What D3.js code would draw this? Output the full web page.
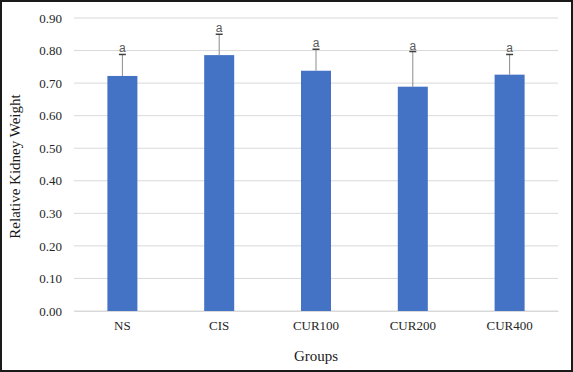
<!DOCTYPE html>
<html>
<head>
<meta charset="utf-8">
<script src="https://cdn.jsdelivr.net/npm/d3@7"></script>
<style>
  body { margin: 0; background: #fff; }
  svg { display: block; }
</style>
</head>
<body>
<div id="chart"></div>
<script>
var groups = ['NS', 'CIS', 'CUR100', 'CUR200', 'CUR400'];
var means = [0.722, 0.786, 0.738, 0.689, 0.726];
var errors = [0.066, 0.064, 0.066, 0.108, 0.062];
var letters = ['a', 'a', 'a', 'a', 'a'];
var yTicks = [0, 0.1, 0.2, 0.3, 0.4, 0.5, 0.6, 0.7, 0.8, 0.9];

var width = 573, height = 372;
var margin = {top: 18, right: 15, bottom: 61, left: 74};

var svg = d3.select('#chart').append('svg')
    .attr('width', width)
    .attr('height', height);

// frame
svg.append('rect')
    .attr('x', 1).attr('y', 1)
    .attr('width', width - 2).attr('height', height - 2)
    .attr('fill', 'none')
    .attr('stroke', '#1a1a1a')
    .attr('stroke-width', 2);

var x = d3.scaleBand()
    .domain(groups)
    .range([margin.left, width - margin.right])
    .paddingInner(0.69)
    .paddingOuter(0.345);

var y = d3.scaleLinear()
    .domain([0, 0.9])
    .range([height - margin.bottom, margin.top]);

// gridlines
svg.append('g')
    .selectAll('line')
    .data(yTicks)
    .enter()
    .append('line')
        .attr('x1', margin.left)
        .attr('x2', width - margin.right)
        .attr('y1', function (d) { return y(d); })
        .attr('y2', function (d) { return y(d); })
        .attr('stroke', '#d9d9d9')
        .attr('stroke-width', 1);

// y axis labels
var yAxis = d3.axisLeft(y)
    .tickValues(yTicks)
    .tickFormat(d3.format('.2f'))
    .tickSize(0)
    .tickPadding(12);

var gy = svg.append('g')
    .attr('transform', 'translate(' + margin.left + ',0)')
    .call(yAxis);
gy.select('.domain').remove();
gy.selectAll('text')
    .attr('font-family', '"Liberation Serif", "Times New Roman", serif')
    .attr('font-size', 13)
    .attr('fill', '#262626');

// x axis labels
var xAxis = d3.axisBottom(x).tickSize(0).tickPadding(10);
var gx = svg.append('g')
    .attr('transform', 'translate(0,' + y(0) + ')')
    .call(xAxis);
gx.select('.domain')
    .attr('stroke', '#d9d9d9');
gx.selectAll('text')
    .attr('font-family', '"Liberation Serif", "Times New Roman", serif')
    .attr('font-size', 13)
    .attr('fill', '#262626');

// bars
svg.append('g')
    .selectAll('rect')
    .data(means)
    .enter()
    .append('rect')
        .attr('x', function (d, i) { return x(groups[i]); })
        .attr('y', function (d) { return y(d); })
        .attr('width', x.bandwidth())
        .attr('height', function (d) { return y(0) - y(d); })
        .attr('fill', '#4472c4');

// error bars (upper only)
var eb = svg.append('g');
means.forEach(function (m, i) {
    var cx = x(groups[i]) + x.bandwidth() / 2;
    var top = y(m + errors[i]);
    eb.append('line')
        .attr('x1', cx).attr('x2', cx)
        .attr('y1', y(m)).attr('y2', top)
        .attr('stroke', '#8c8c8c')
        .attr('stroke-width', 1);
    eb.append('line')
        .attr('x1', cx - 3.5).attr('x2', cx + 3.5)
        .attr('y1', top).attr('y2', top)
        .attr('stroke', '#404040')
        .attr('stroke-width', 1.5);
    eb.append('text')
        .attr('x', cx)
        .attr('y', top - 2)
        .attr('text-anchor', 'middle')
        .attr('font-family', '"Liberation Sans", Arial, sans-serif')
        .attr('font-size', 12)
        .attr('fill', '#595959')
        .text(letters[i]);
});

// axis titles
svg.append('text')
    .attr('transform', 'translate(20,' + (y(0.45) + 2) + ') rotate(-90)')
    .attr('text-anchor', 'middle')
    .attr('font-family', '"Liberation Serif", "Times New Roman", serif')
    .attr('font-size', 15)
    .attr('fill', '#1a1a1a')
    .text('Relative Kidney Weight');

svg.append('text')
    .attr('x', (margin.left + width - margin.right) / 2)
    .attr('y', 361)
    .attr('text-anchor', 'middle')
    .attr('font-family', '"Liberation Serif", "Times New Roman", serif')
    .attr('font-size', 15)
    .attr('fill', '#1a1a1a')
    .text('Groups');
</script>
</body>
</html>
